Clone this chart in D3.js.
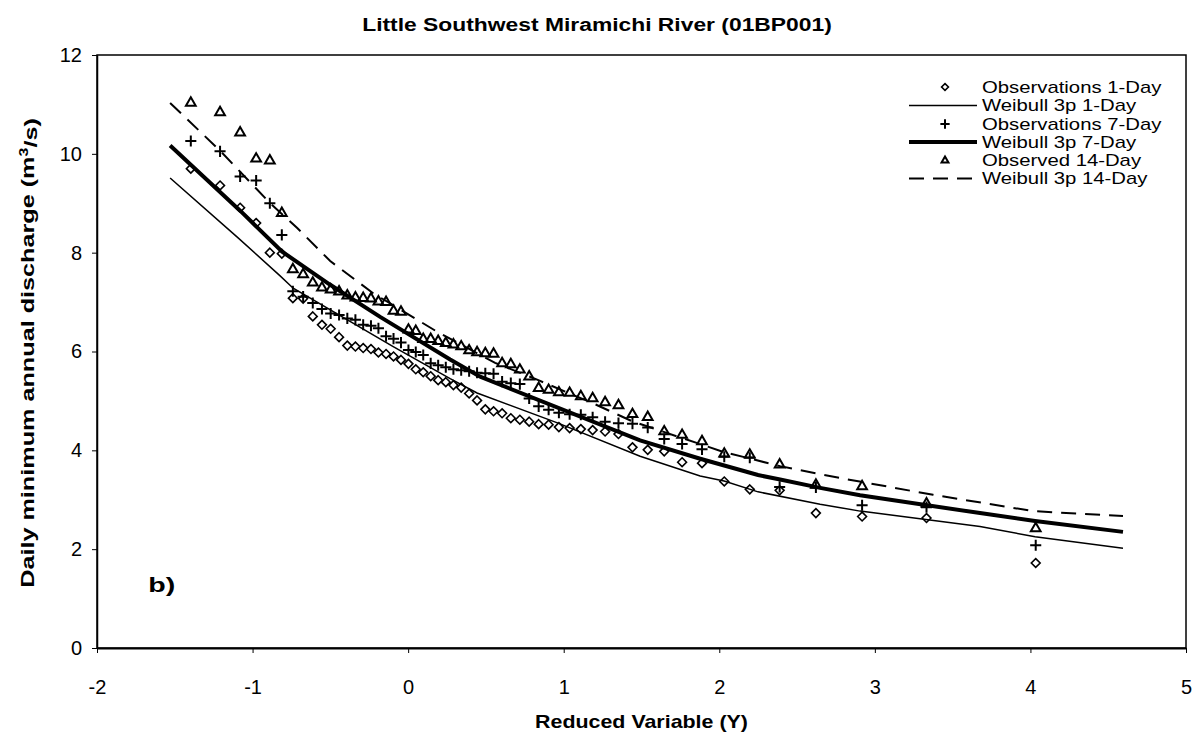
<!DOCTYPE html>
<html>
<head>
<meta charset="utf-8">
<script src="https://cdn.jsdelivr.net/npm/d3@7"></script>
<style>
  body { margin: 0; background: #fff; }
  svg { display: block; font-family: 'Liberation Sans', Arial, sans-serif; }
  .axis path, .axis line { stroke: #000; }
  .axis text { font-size: 20px; fill: #000; }
  .ttl { font-weight: bold; fill: #000; }
  .legend text { font-size: 16px; fill: #000; }
</style>
</head>
<body>
<div id="chart"></div>
<script>
// Gumbel reduced variable of each ranked observation (same for all series)
const reducedVariable = [
  -1.397, -1.209, -1.080, -0.977, -0.889, -0.812, -0.741, -0.675, -0.613, -0.554,
  -0.498, -0.444, -0.391, -0.339, -0.289, -0.239, -0.191, -0.142, -0.094, -0.046,
  0.002, 0.049, 0.097, 0.145, 0.193, 0.242, 0.291, 0.341, 0.392, 0.443,
  0.496, 0.549, 0.604, 0.660, 0.718, 0.778, 0.839, 0.903, 0.969, 1.038,
  1.110, 1.186, 1.266, 1.352, 1.442, 1.540, 1.646, 1.761, 1.889, 2.032,
  2.196, 2.388, 2.621, 2.918, 3.332, 4.034,
];

const obs1Day = [
  9.70, 9.36, 8.91, 8.60, 8.00, 7.98, 7.08, 7.07, 6.71, 6.54,
  6.46, 6.29, 6.12, 6.10, 6.07, 6.05, 5.98, 5.95, 5.90, 5.83,
  5.75, 5.64, 5.58, 5.50, 5.42, 5.38, 5.32, 5.27, 5.15, 5.01,
  4.83, 4.79, 4.75, 4.65, 4.62, 4.58, 4.53, 4.52, 4.47, 4.45,
  4.43, 4.41, 4.38, 4.33, 4.06, 4.01, 3.98, 3.76, 3.74, 3.37,
  3.21, 3.19, 2.73, 2.66, 2.63, 1.72,
];

const obs7Day = [
  10.26, 10.05, 9.54, 9.46, 9.00, 8.36, 7.22, 7.11, 6.98, 6.86,
  6.77, 6.74, 6.67, 6.64, 6.54, 6.52, 6.47, 6.31, 6.26, 6.18,
  6.03, 5.99, 5.93, 5.76, 5.72, 5.68, 5.64, 5.62, 5.60, 5.57,
  5.56, 5.55, 5.39, 5.36, 5.34, 5.05, 4.89, 4.82, 4.76, 4.73,
  4.72, 4.67, 4.58, 4.55, 4.54, 4.46, 4.23, 4.13, 4.02, 3.87,
  3.85, 3.26, 3.25, 2.89, 2.85, 2.08,
];

const obs14Day = [
  11.03, 10.84, 10.43, 9.90, 9.86, 8.80, 7.66, 7.56, 7.39, 7.29,
  7.25, 7.21, 7.13, 7.09, 7.08, 7.07, 7.01, 7.00, 6.82, 6.80,
  6.44, 6.41, 6.25, 6.25, 6.21, 6.17, 6.14, 6.10, 6.02, 5.98,
  5.96, 5.95, 5.76, 5.74, 5.63, 5.49, 5.26, 5.22, 5.17, 5.16,
  5.09, 5.05, 4.97, 4.91, 4.73, 4.67, 4.38, 4.31, 4.18, 3.93,
  3.91, 3.71, 3.30, 3.27, 2.92, 2.42,
];

// fitted Weibull 3p curves (reduced variable, discharge)
const fit1DayY = [-1.530, -1.093, -0.823, -0.739, -0.096, 0.270, 0.443, 0.964, 1.491, 1.877, 2.031, 2.249, 2.648, 2.905, 3.676, 4.030, 4.595];
const fit1Day = [9.51, 8.30, 7.53, 7.28, 6.10, 5.45, 5.16, 4.55, 3.88, 3.48, 3.38, 3.16, 2.91, 2.77, 2.46, 2.25, 2.02];

const fit7DayY = [-1.530, -1.080, -0.810, -0.501, -0.180, 0.270, 0.463, 1.491, 1.877, 2.249, 2.391, 2.648, 2.905, 3.676, 4.030, 4.595];
const fit7Day = [10.17, 8.85, 8.02, 7.35, 6.70, 5.84, 5.49, 4.20, 3.83, 3.50, 3.41, 3.24, 3.09, 2.73, 2.57, 2.35];

const fit14DayY = [-1.530, -1.208, -0.887, -0.713, -0.501, -0.225, 0.186, 0.559, 0.829, 1.189, 1.446, 1.864, 2.024, 2.391, 2.776, 3.374, 4.017, 4.595];
const fit14Day = [11.03, 10.06, 9.00, 8.50, 7.83, 7.18, 6.40, 5.77, 5.43, 4.95, 4.58, 4.14, 3.97, 3.68, 3.44, 3.10, 2.77, 2.67];

const xTicks = [-2, -1, 0, 1, 2, 3, 4, 5];
const yTicks = [0, 2, 4, 6, 8, 10, 12];

const legendLabels = [
  'Observations 1-Day', 'Weibull 3p 1-Day',
  'Observations 7-Day', 'Weibull 3p 7-Day',
  'Observed 14-Day', 'Weibull 3p 14-Day',
];

const W = 1195;
const H = 741;
const margin = { top: 55, right: 9, bottom: 93, left: 97 };
const width = W - margin.left - margin.right;
const height = H - margin.top - margin.bottom;

const svg = d3.select('#chart')
  .append('svg')
  .attr('width', W)
  .attr('height', H);

svg.append('rect').attr('width', W).attr('height', H).attr('fill', '#fff');

const g = svg.append('g')
  .attr('transform', `translate(${margin.left}, ${margin.top})`);

const x = d3.scaleLinear().domain([-2, 5]).range([0, width]);
const y = d3.scaleLinear().domain([0, 12]).range([height, 0]);

// the source chart's lettering is wider than the font, stretch to its width
function stretchTo(sel, target) {
  const w = sel.node().getComputedTextLength();
  return target / w;
}

// frame
g.append('rect')
  .attr('width', width)
  .attr('height', height)
  .attr('fill', 'none')
  .attr('stroke', '#000')
  .attr('stroke-width', 1.5);

g.append('g')
  .attr('class', 'axis')
  .attr('transform', `translate(0, ${height})`)
  .call(d3.axisBottom(x).tickValues(xTicks).tickFormat(d => String(d))
    .tickSize(5).tickSizeOuter(0).tickPadding(27))
  .call(s => s.select('.domain').attr('stroke-width', 2))
  .call(s => s.selectAll('.tick line').attr('stroke-width', 1));

g.append('g')
  .attr('class', 'axis')
  .call(d3.axisLeft(y).tickValues(yTicks).tickFormat(d => String(d))
    .tickSize(5).tickSizeOuter(0).tickPadding(10))
  .call(s => s.select('.domain').attr('stroke-width', 1.5))
  .call(s => s.selectAll('.tick line').attr('stroke-width', 1));

const line = d3.line()
  .x(d => x(d[0]))
  .y(d => y(d[1]));

const curves = [
  { xs: fit1DayY, ys: fit1Day, width: 1.5, dash: null },
  { xs: fit7DayY, ys: fit7Day, width: 4, dash: null },
  { xs: fit14DayY, ys: fit14Day, width: 2, dash: '15,9' },
];

const series = [
  { values: obs1Day, type: d3.symbolDiamond2, size: 50, sw: 1.6 },
  { values: obs7Day, type: d3.symbolPlus, size: 42, sw: 2 },
  { values: obs14Day, type: d3.symbolTriangle2, size: 68, sw: 2 },
];

curves.forEach(c => {
  g.append('path')
    .datum(c.xs.map((v, i) => [v, c.ys[i]]))
    .attr('fill', 'none')
    .attr('stroke', '#000')
    .attr('stroke-width', c.width)
    .attr('stroke-dasharray', c.dash)
    .attr('d', line);
});

series.forEach(s => {
  g.append('g')
    .selectAll('path')
    .data(s.values)
    .join('path')
    .attr('transform', (d, i) => `translate(${x(reducedVariable[i])}, ${y(d)})`)
    .attr('d', d3.symbol().type(s.type).size(s.size))
    .attr('fill', 'none')
    .attr('stroke', '#000')
    .attr('stroke-width', s.sw);
});

// panel label
const panel = g.append('text')
  .attr('class', 'ttl')
  .attr('font-size', 20)
  .text('b)');
panel.attr('transform', `translate(${x(-1.67)}, ${y(1.13)}) scale(${stretchTo(panel, 27)}, 1)`);

// legend
const legend = svg.append('g').attr('class', 'legend');
const rowY = [87, 105.5, 124, 142, 160.5, 178.5];
const legendItems = [
  { kind: 'sym', type: d3.symbolDiamond2, size: 30, sw: 1.6 },
  { kind: 'line', width: 1.5 },
  { kind: 'sym', type: d3.symbolPlus, size: 30, sw: 2 },
  { kind: 'line', width: 4 },
  { kind: 'sym', type: d3.symbolTriangle2, size: 34, sw: 2 },
  { kind: 'line', width: 2, dash: '15,9' },
];

legendItems.forEach((item, i) => {
  const row = legend.append('g').attr('transform', `translate(0, ${rowY[i]})`);
  if (item.kind === 'sym') {
    row.append('path')
      .attr('transform', 'translate(945, 0)')
      .attr('d', d3.symbol().type(item.type).size(item.size))
      .attr('fill', 'none')
      .attr('stroke', '#000')
      .attr('stroke-width', item.sw);
  } else {
    row.append('line')
      .attr('x1', 909).attr('x2', 977)
      .attr('stroke', '#000')
      .attr('stroke-width', item.width)
      .attr('stroke-dasharray', item.dash || null);
  }
  row.append('text')
    .attr('dy', '0.35em')
    .attr('transform', 'translate(982, 0) scale(1.27, 1)')
    .text(legendLabels[i]);
});

// titles
const title = svg.append('text')
  .attr('class', 'ttl')
  .attr('dy', '0.35em')
  .attr('text-anchor', 'middle')
  .attr('font-size', 19)
  .text('Little Southwest Miramichi River (01BP001)');
title.attr('transform', `translate(597, 24) scale(${stretchTo(title, 470)}, 1)`);

const xTitle = svg.append('text')
  .attr('class', 'ttl')
  .attr('dy', '0.35em')
  .attr('text-anchor', 'middle')
  .attr('font-size', 18)
  .text('Reduced Variable (Y)');
xTitle.attr('transform', `translate(${margin.left + width / 2}, 722) scale(${stretchTo(xTitle, 213)}, 1)`);

const yLabel = svg.append('text')
  .attr('class', 'ttl')
  .attr('dy', '0.35em')
  .attr('text-anchor', 'middle')
  .attr('font-size', 19);
yLabel.append('tspan').text('Daily minimum annual discharge (m');
yLabel.append('tspan').attr('dy', '-0.45em').attr('font-size', 12).text('3');
yLabel.append('tspan').attr('dy', '0.45em').text('/s)');
yLabel.attr('transform', `translate(27, 353) rotate(-90) scale(${stretchTo(yLabel, 470)}, 1)`);
</script>
</body>
</html>
